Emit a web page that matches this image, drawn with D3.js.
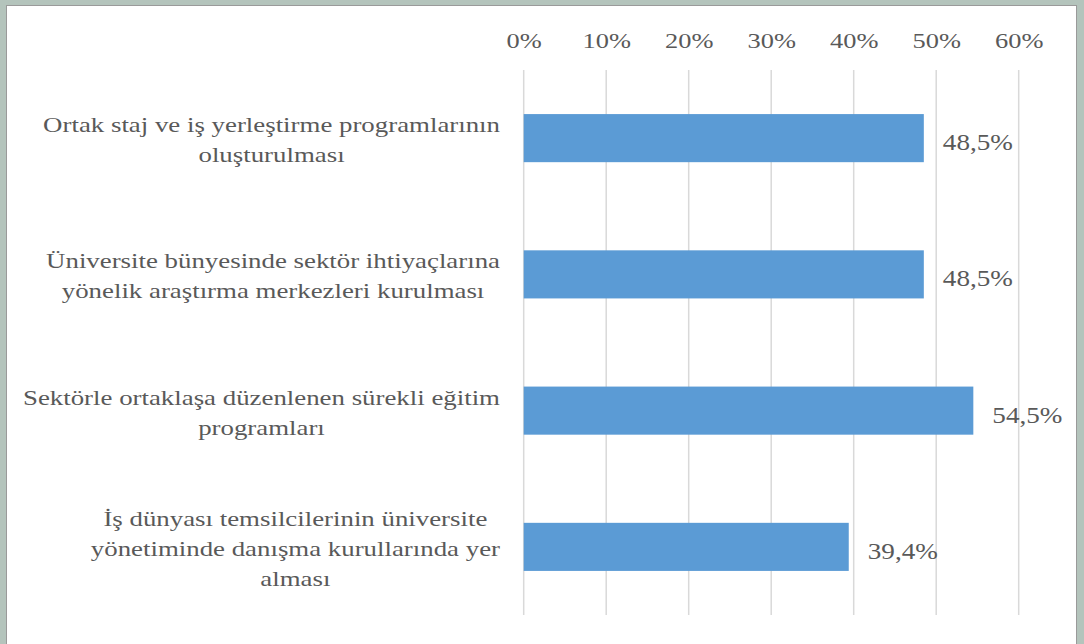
<!DOCTYPE html>
<html>
<head>
<meta charset="utf-8">
<script src="https://cdn.jsdelivr.net/npm/d3@7/dist/d3.min.js"></script>
<style>
html,body{margin:0;padding:0;background:#b4c4bc;}
svg{display:block;}
</style>
</head>
<body>
<svg id="chart" width="1084" height="644"></svg>
<script>
const categories = [
  "Ortak staj ve iş yerleştirme programlarının\noluşturulması",
  "Üniversite bünyesinde sektör ihtiyaçlarına\nyönelik araştırma merkezleri kurulması",
  "Sektörle ortaklaşa düzenlenen sürekli eğitim\nprogramları",
  "İş dünyası temsilcilerinin üniversite\nyönetiminde danışma kurullarında yer\nalması"
];
const values = [48.5, 48.5, 54.5, 39.4];
const valueLabels = ["48,5%", "48,5%", "54,5%", "39,4%"];
const tickValues = [0, 10, 20, 30, 40, 50, 60];
const tickLabels = ["0%", "10%", "20%", "30%", "40%", "50%", "60%"];

const svg = d3.select("#chart");
const textColor = "#595959";
const FONT = "Liberation Serif";

function stretch(sel, sx) {
  sel.each(function() {
    const w = this.getComputedTextLength();
    d3.select(this).attr("textLength", w * sx).attr("lengthAdjust", "spacingAndGlyphs");
  });
}

svg.append("rect").attr("x", 6.5).attr("y", 5.5).attr("width", 1070).attr("height", 660)
  .attr("fill", "#fff").attr("stroke", "#9a9a9a").attr("stroke-width", 1);

const x = d3.scaleLinear().domain([0, 60]).range([523.7, 1018.7]);
const y = d3.scaleBand().domain(d3.range(categories.length)).range([70, 615])
  .paddingInner(0.647).paddingOuter(0.3235);

// gridlines
svg.append("g").selectAll("line").data(tickValues).join("line")
  .attr("x1", d => x(d)).attr("x2", d => x(d))
  .attr("y1", 70).attr("y2", 615)
  .attr("stroke", "#d9d9d9").attr("stroke-width", 1.5);

// top axis tick labels
const axis = d3.axisTop(x).tickValues(tickValues).tickFormat((d, i) => tickLabels[i]).tickSize(0).tickPadding(0);
const ag = svg.append("g").attr("transform", "translate(0,48)").call(axis);
ag.select(".domain").remove();
ag.attr("font-family", FONT).attr("font-size", 22);
ag.selectAll("text")
  .style("font-family", FONT).style("font-size", "22px").attr("fill", textColor)
  .attr("dy", 0).attr("y", 0)
  .call(stretch, 1.2);

// bars
svg.append("g").selectAll("rect").data(values).join("rect")
  .attr("x", x(0)).attr("y", (d, i) => y(i))
  .attr("width", d => x(d) - x(0)).attr("height", y.bandwidth())
  .attr("fill", "#5b9bd5");

// value labels
svg.append("g").selectAll("text").data(values).join("text")
  .attr("x", d => x(d) + 19)
  .attr("y", (d, i) => y(i) + y.bandwidth() / 2 + 12)
  .style("font-family", FONT).style("font-size", "23px").attr("fill", textColor)
  .text((d, i) => valueLabels[i])
  .call(stretch, 1.18);

// category labels
const CSX = 1.22;
const cg = svg.append("g");
categories.forEach((c, i) => {
  const lines = c.split("\n");
  const cy = y(i) + y.bandwidth() / 2;
  const g = cg.append("g");
  const texts = lines.map((l, j) => g.append("text")
    .style("font-family", FONT).style("font-size", "22px").attr("fill", textColor)
    .attr("text-anchor", "middle")
    .text(l));
  const maxW = d3.max(texts, t => t.node().getComputedTextLength()) * CSX;
  const cx = 500 - maxW / 2;
  texts.forEach((t, j) => {
    t.attr("x", cx).attr("y", cy - (lines.length - 1) * 15 + 9 + j * 30).call(stretch, CSX);
  });
});
</script>
</body>
</html>
